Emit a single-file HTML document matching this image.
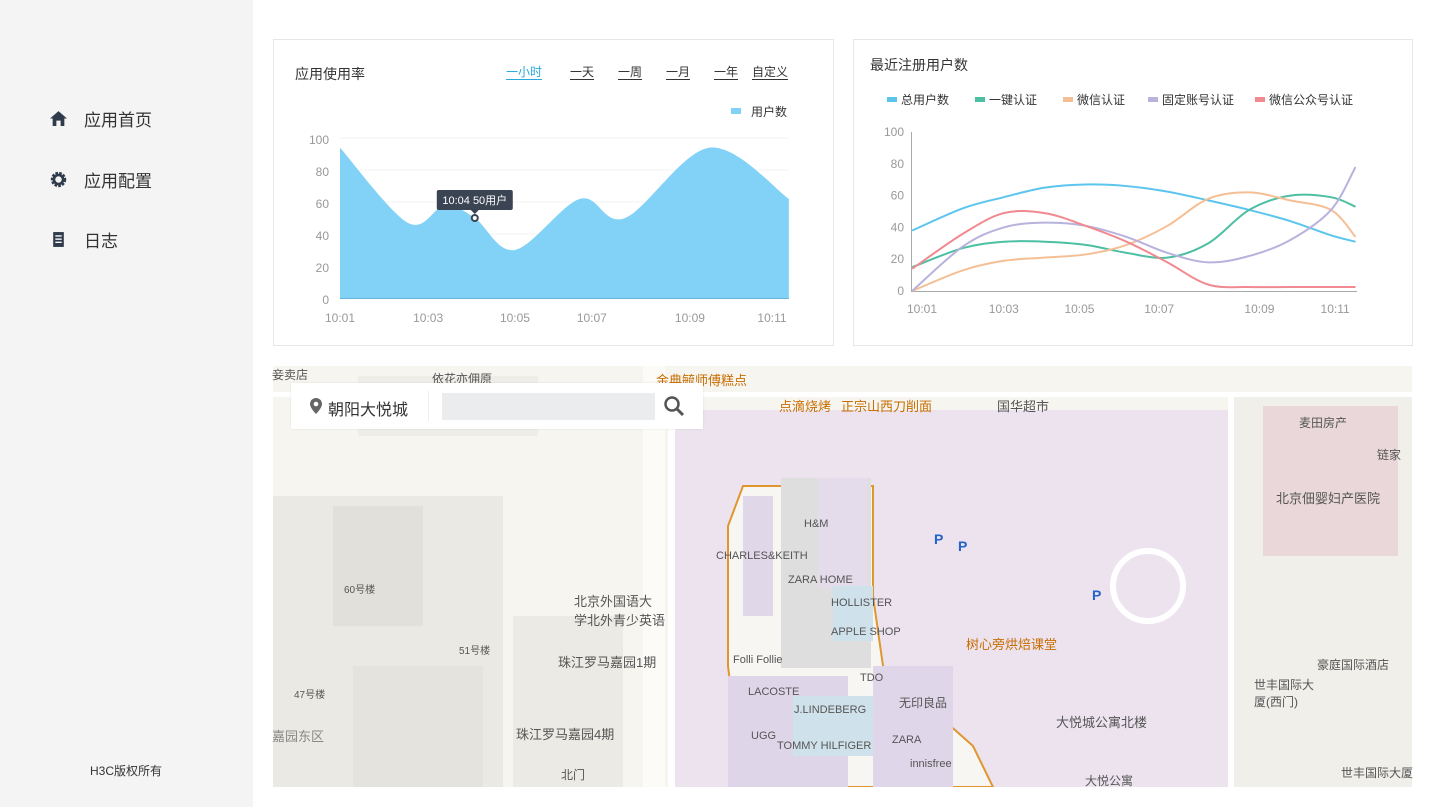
<!DOCTYPE html>
<html><head><meta charset="utf-8">
<style>
*{margin:0;padding:0;box-sizing:border-box}
body{width:1437px;height:807px;overflow:hidden;background:#fff;font-family:"Liberation Sans","Noto Sans CJK SC",sans-serif;position:relative;color:#333}
.side{position:absolute;left:0;top:0;width:253px;height:807px;background:#f4f4f5}
.nav{position:absolute;left:50px;font-size:17px;color:#333;display:flex;align-items:center}
.nav svg{margin-right:17px}
.card{position:absolute;border:1px solid #e6e6e6;background:#fff}
.t{position:absolute;font-size:14px;color:#333}
.tab{position:absolute;top:65px;font-size:12px;color:#333;border-bottom:1px solid #333;line-height:14px}
.ax{font-size:12px;fill:#999}
</style></head><body>
<div class="side">
 <div class="nav" style="top:106px"><svg width="17" height="17" viewBox="0 0 16 16"><path d="M8 1 L16 8 H13.5 V15 H10 V10 H6 V15 H2.5 V8 H0 Z" fill="#2f3a4a"/></svg>应用首页</div>
 <div class="nav" style="top:167px"><svg width="17" height="17" viewBox="0 0 16 16"><circle cx="8" cy="8" r="5.5" fill="none" stroke="#2f3a4a" stroke-width="3.5" stroke-dasharray="2.2 1.1"/><circle cx="8" cy="8" r="4.3" fill="none" stroke="#2f3a4a" stroke-width="2.5"/></svg>应用配置</div>
 <div class="nav" style="top:227px"><svg width="17" height="17" viewBox="0 0 16 16"><rect x="3" y="1" width="10" height="14" fill="#2f3a4a"/><rect x="5" y="4" width="6" height="1.3" fill="#fff"/><rect x="5" y="7" width="6" height="1.3" fill="#fff"/><rect x="5" y="10" width="6" height="1.3" fill="#fff"/></svg>日志</div>
 <div style="position:absolute;left:90px;top:762px;font-size:12px;color:#333">H3C版权所有</div>
</div>

<div class="card" style="left:273px;top:39px;width:561px;height:307px"></div>
<div class="t" style="left:295px;top:64px">应用使用率</div>
<div class="tab" style="left:506px;color:#29a8e0;border-color:#29a8e0">一小时</div>
<div class="tab" style="left:570px">一天</div>
<div class="tab" style="left:618px">一周</div>
<div class="tab" style="left:666px">一月</div>
<div class="tab" style="left:714px">一年</div>
<div class="tab" style="left:752px">自定义</div>

<div class="card" style="left:853px;top:39px;width:560px;height:307px"></div>
<div class="t" style="left:870px;top:55px">最近注册用户数</div>

<svg id="charts" width="1437" height="360" style="position:absolute;left:0;top:0"></svg>

<svg width="1139" height="421" style="position:absolute;left:273px;top:366px">
 <rect width="1139" height="421" fill="#f7f5f0"/>
 <rect x="0" y="130" width="230" height="291" fill="#ebe9e3"/>
 <rect x="60" y="140" width="90" height="120" fill="#e2e0da"/>
 <rect x="80" y="300" width="130" height="121" fill="#e5e3dd"/>
 <rect x="240" y="250" width="110" height="171" fill="#eceae4"/>
 <rect x="85" y="10" width="180" height="60" fill="#efede8"/>
 <rect x="370" y="0" width="22" height="421" fill="#fcfbf8"/>
 <path d="M402 70 Q402 44 430 44 L955 44 L955 421 L402 421 Z" fill="#ece3ef"/>
 <rect x="955" y="30" width="184" height="391" fill="#f0efea"/>
 <rect x="990" y="40" width="135" height="150" fill="#e9d7d9"/>
 <rect x="0" y="26" width="1139" height="5" fill="#fff"/>
 <rect x="395" y="26" width="7" height="395" fill="#fff"/>
 <rect x="955" y="26" width="6" height="395" fill="#fff"/>
 <path d="M470 120 L600 120 L600 230 L610 300 L700 380 L720 421 L470 421 L455 300 L455 160 Z" fill="#f8f6f3" stroke="#e0962f" stroke-width="2"/>
 <rect x="508" y="112" width="90" height="190" fill="#dedede"/>
 <rect x="545" y="112" width="50" height="110" fill="#e4dcea"/>
 <rect x="470" y="130" width="30" height="120" fill="#e0d7e8"/>
 <rect x="560" y="220" width="40" height="55" fill="#cfe1ea"/>
 <rect x="455" y="310" width="120" height="111" fill="#dfd5e8"/>
 <rect x="520" y="330" width="80" height="60" fill="#cfe1ea"/>
 <rect x="600" y="300" width="80" height="121" fill="#e0d6ea"/>
 <circle cx="875" cy="220" r="35" fill="none" stroke="#fff" stroke-width="6"/>
</svg>
<div style="position:absolute;left:274px;top:366px;width:1139px;height:421px;font-size:12px;color:#555">
 <span style="position:absolute;left:-2px;top:0">妾卖店</span><span style="position:absolute;left:158px;top:4px">依花亦佣原</span>
 <span style="position:absolute;left:382px;top:4px;color:#c76d00;font-size:13px">金典毓师傅糕点</span>
 <span style="position:absolute;left:505px;top:30px;color:#c76d00;font-size:13px">点滴烧烤</span><span style="position:absolute;left:567px;top:30px;color:#c76d00;font-size:13px">正宗山西刀削面</span>
 <span style="position:absolute;left:723px;top:30px;font-size:13px">国华超市</span>
 <span style="position:absolute;left:1025px;top:48px">麦田房产</span><span style="position:absolute;left:1103px;top:80px">链家</span>
 <span style="position:absolute;left:1002px;top:122px;font-size:13px">北京佃婴妇产医院</span>
 <span style="position:absolute;left:300px;top:225px;font-size:13px">北京外国语大<br>学北外青少英语</span>
 <span style="position:absolute;left:70px;top:215px;font-size:10px">60号楼</span><span style="position:absolute;left:185px;top:276px;font-size:10px">51号楼</span><span style="position:absolute;left:20px;top:320px;font-size:10px">47号楼</span>
 <span style="position:absolute;left:284px;top:286px;font-size:13px">珠江罗马嘉园1期</span><span style="position:absolute;left:242px;top:358px;font-size:13px">珠江罗马嘉园4期</span>
 <span style="position:absolute;left:-2px;top:360px;font-size:13px;color:#888">嘉园东区</span><span style="position:absolute;left:287px;top:400px">北门</span>
 <span style="position:absolute;left:442px;top:184px;font-size:11px">CHARLES&amp;KEITH</span><span style="position:absolute;left:530px;top:152px;font-size:11px">H&amp;M</span>
 <span style="position:absolute;left:514px;top:208px;font-size:11px">ZARA HOME</span><span style="position:absolute;left:557px;top:231px;font-size:11px">HOLLISTER</span>
 <span style="position:absolute;left:557px;top:260px;font-size:11px">APPLE SHOP</span><span style="position:absolute;left:459px;top:288px;font-size:11px">Folli Follie</span>
 <span style="position:absolute;left:474px;top:320px;font-size:11px">LACOSTE</span><span style="position:absolute;left:520px;top:338px;font-size:11px">J.LINDEBERG</span>
 <span style="position:absolute;left:477px;top:364px;font-size:11px">UGG</span><span style="position:absolute;left:503px;top:374px;font-size:11px">TOMMY HILFIGER</span>
 <span style="position:absolute;left:586px;top:306px;font-size:11px">TDO</span><span style="position:absolute;left:625px;top:328px">无印良品</span>
 <span style="position:absolute;left:618px;top:368px;font-size:11px">ZARA</span><span style="position:absolute;left:636px;top:392px;font-size:11px">innisfree</span>
 <span style="position:absolute;left:692px;top:268px;color:#c76d00;font-size:13px">树心旁烘焙课堂</span>
 <span style="position:absolute;left:782px;top:346px;font-size:13px">大悦城公寓北楼</span><span style="position:absolute;left:811px;top:406px">大悦公寓</span>
 <span style="position:absolute;left:1043px;top:290px">豪庭国际酒店</span><span style="position:absolute;left:980px;top:310px">世丰国际大<br>厦(西门)</span>
 <span style="position:absolute;left:1067px;top:398px">世丰国际大厦</span>
 <span style="position:absolute;left:660px;top:165px;color:#2463c9;font-weight:bold;font-size:14px">P</span><span style="position:absolute;left:684px;top:172px;color:#2463c9;font-weight:bold;font-size:14px">P</span><span style="position:absolute;left:818px;top:221px;color:#2463c9;font-weight:bold;font-size:14px">P</span>
</div>
<div style="position:absolute;left:291px;top:383px;width:412px;height:46px;background:#fff;box-shadow:0 0 2px rgba(0,0,0,.1)">
 <svg width="14" height="18" style="position:absolute;left:18px;top:14px"><path d="M7 1 A6 6 0 0 1 13 7 C13 11 7 17 7 17 C7 17 1 11 1 7 A6 6 0 0 1 7 1 Z" fill="#666"/><circle cx="7" cy="7" r="2.3" fill="#fff"/></svg>
 <span style="position:absolute;left:37px;top:13px;font-size:16px;color:#333">朝阳大悦城</span>
 <div style="position:absolute;left:137px;top:8px;width:1px;height:30px;background:#eee"></div>
 <div style="position:absolute;left:151px;top:10px;width:213px;height:27px;background:#ebecee"></div>
 <svg width="22" height="22" style="position:absolute;left:372px;top:12px"><circle cx="9" cy="9" r="6.5" fill="none" stroke="#555" stroke-width="2.5"/><path d="M14 14 L20 20" stroke="#555" stroke-width="3"/></svg>
</div>

<script>
const NS='http://www.w3.org/2000/svg';
const svg=document.getElementById('charts');
function mk(tag,attrs,parent){const e=document.createElementNS(NS,tag);for(const k in attrs)e.setAttribute(k,attrs[k]);(parent||svg).appendChild(e);return e;}
function smooth(pts){let d='M'+pts[0][0]+','+pts[0][1];for(let i=0;i<pts.length-1;i++){const p0=pts[i-1]||pts[i],p1=pts[i],p2=pts[i+1],p3=pts[i+2]||p2;const c1=[p1[0]+(p2[0]-p0[0])/6,p1[1]+(p2[1]-p0[1])/6],c2=[p2[0]-(p3[0]-p1[0])/6,p2[1]-(p3[1]-p1[1])/6];d+=' C'+c1[0]+','+c1[1]+' '+c2[0]+','+c2[1]+' '+p2[0]+','+p2[1];}return d;}

// ---- left chart data ----
const usageMinutes=[1.0,2.57,3.43,4.12,5.05,6.56,7.6,9.56,11.39];
const usageValues=[94,47,58,50,30,62,50,94,62];
const yTicks=[0,20,40,60,80,100];
const xTickMinutes=[1,3,5,7,9,11];
const xTickLabels=['10:01','10:03','10:05','10:07','10:09','10:11'];
const usageTickMinutes=[1,3.04,5.05,6.83,9.1,11];
const Lx=m=>340+(m-1)*43.2, Ly=v=>298-v*1.6;
yTicks.forEach(t=>{
 const l=mk('line',{x1:340,x2:789,y1:Ly(t),y2:Ly(t),stroke:'#f3f3f3'});
 
 const tx=mk('text',{x:329,y:Ly(t)+6,'text-anchor':'end',class:'ax'});tx.textContent=t;
 
});
usageTickMinutes.forEach((m,i)=>{const tx=mk('text',{x:Lx(m),y:322,'text-anchor':'middle',class:'ax'});tx.textContent=xTickLabels[i];
 });
const up=usageMinutes.map((m,i)=>[Lx(m),Ly(usageValues[i])]);
const area=mk('path',{d:smooth(up)+' L'+up[up.length-1][0]+','+Ly(0)+' L'+up[0][0]+','+Ly(0)+' Z',fill:'#82d2f7'});

mk('line',{x1:340,x2:789,y1:298.5,y2:298.5,stroke:'#6ab4dc'});
const lg=mk('rect',{x:731,y:108,width:10,height:6,fill:'#82d2f7'});

const lgt=mk('text',{x:751,y:116,'font-size':12,fill:'#333'});lgt.textContent='用户数';

const ttx=Lx(usageMinutes[3]),tty=Ly(usageValues[3]);
const tt=mk('rect',{x:ttx-38,y:tty-28,width:76,height:20,rx:2,fill:'#3b4452'});

mk('path',{d:`M${ttx-4},${tty-8} L${ttx},${tty-4} L${ttx+4},${tty-8}Z`,fill:'#3b4452'});
const ttt=mk('text',{x:ttx,y:tty-14,'text-anchor':'middle','font-size':11,fill:'#fff'});ttt.textContent='10:04 50用户';
const dot=mk('circle',{cx:ttx,cy:tty,r:3,fill:'#fff',stroke:'#3b4452','stroke-width':2});


// ---- right chart data ----
const regMinutes=[0.76,2,3,4,5,6,7,8,9,10,11,11.6];
const seriesNames=['总用户数','一键认证','微信认证','固定账号认证','微信公众号认证'];
const seriesColors=['#5bc5ee','#4dbfa3','#f5bf96','#b8b2dd','#f08a90'];
const totalUsers=[38,52,59,65,67,66,62.5,57,51,44,35,31];
const oneKey=[15,27,31,31,29,24,21,30,51,60,59,53];
const wechat=[0,13,19,21,23,29,41,58,62,57,51,34];
const fixedAcct=[0,28,40,43,41,34,24,18,22,32,51,78];
const wechatPub=[14,36,49,49,41,31,18,4,2.5,2.5,2.5,2.5];
const allSeries=[totalUsers,oneKey,wechat,fixedAcct,wechatPub];
const Rx=m=>922+(m-1)*40.9, Ry=v=>291-v*1.59;
yTicks.forEach(t=>{const tx=mk('text',{x:904,y:Ry(t)+4,'text-anchor':'end',class:'ax'});tx.textContent=t;
 });
const xr=[1,3,4.85,6.8,9.25,11.1];
xTickMinutes.forEach((m,i)=>{const tx=mk('text',{x:Rx(xr[i]),y:313,'text-anchor':'middle',class:'ax'});tx.textContent=xTickLabels[i];
 });
mk('line',{x1:911.5,x2:911.5,y1:132,y2:291,stroke:'#aaa'});
mk('line',{x1:911,x2:1357,y1:291.5,y2:291.5,stroke:'#aaa'});
allSeries.forEach((s,k)=>{
 const p=mk('path',{d:smooth(regMinutes.map((m,i)=>[Rx(m),Ry(s[i])])),fill:'none',stroke:seriesColors[k],'stroke-width':2});
 
});
const legX=[887,975,1063,1148,1255];
seriesNames.forEach((n,k)=>{
 const r=mk('rect',{x:legX[k],y:97,width:10,height:5,fill:seriesColors[k]});
 
 const t=mk('text',{x:legX[k]+14,y:104,'font-size':12,fill:'#333'});t.textContent=n;
 
});
</script>
</body></html>
